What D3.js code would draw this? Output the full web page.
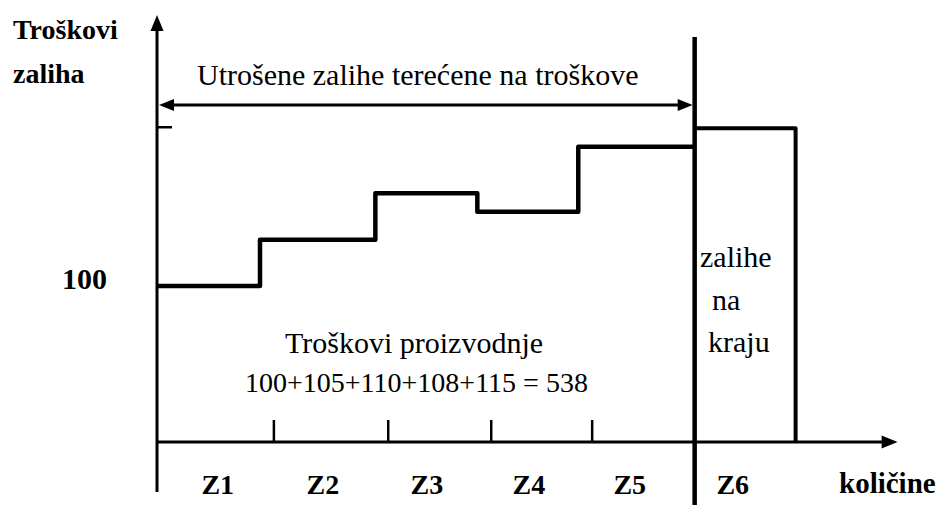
<!DOCTYPE html>
<html>
<head>
<meta charset="utf-8">
<script src="https://cdn.jsdelivr.net/npm/d3@7"></script>
<style>
  html, body { margin: 0; padding: 0; background: #fff; }
  svg { display: block; }
  svg text { fill: #000; }
</style>
</head>
<body>
<svg id="chart" width="942" height="505"></svg>
<script>
// ---- data ----
const categories = ["Z1", "Z2", "Z3", "Z4", "Z5", "Z6"];
const quantities = [10, 11.2, 9.9, 9.8, 11.3, 9.8];      // width of each lot on the quantity axis
const costs = [100, 105, 110, 108, 115];                   // cost per unit of Z1..Z5
const endInventoryCost = 117;                              // Z6 (zalihe na kraju)
const labelAt = [5.9, 16.1, 26.2, 36.1, 45.9, 55.9];        // quantity-axis position of Z labels
const tickValuesX = [11.3, 22.4, 32.4, 42.2];
const tickValuesY = [100];
const formulaText = "100+105+110+108+115 = 538";

// ---- scales ----
const FONT = "'Liberation Serif', 'Noto Serif', 'DejaVu Serif', FreeSerif, Tinos, 'Times New Roman', serif";
const svg = d3.select("#chart").attr("font-family", FONT);
const x = d3.scaleLinear().domain([0, 72]).range([157, 898.6]);
const y = d3.scaleLinear().domain([83.2, 129.2]).range([442, 15]);

const cum = [0];
quantities.forEach(q => cum.push(cum[cum.length - 1] + q));

function tri(tipX, tipY, dir, len, half) {
  let p;
  if (dir === "up") p = [[tipX, tipY], [tipX - half, tipY + len], [tipX + half, tipY + len]];
  else if (dir === "right") p = [[tipX, tipY], [tipX - len, tipY - half], [tipX - len, tipY + half]];
  else p = [[tipX, tipY], [tipX + len, tipY - half], [tipX + len, tipY + half]];
  svg.append("path").attr("d", "M" + p.map(d => d.join(",")).join("L") + "Z").attr("fill", "#000");
}

function txt(xp, yp, s, size, bold, anchor) {
  return svg.append("text").attr("x", xp).attr("y", yp)
    .attr("font-family", FONT).attr("font-size", size)
    .attr("font-weight", bold ? "bold" : "normal")
    .attr("text-anchor", anchor || "start")
    .text(s);
}

// ---- x axis (quantities) ----
const xAxis = d3.axisBottom(x).tickValues(tickValuesX).tickSize(-22).tickSizeOuter(0).tickFormat("");
const gx = svg.append("g").attr("transform", `translate(0,${y(83.2)})`).call(xAxis);
gx.select(".domain").attr("stroke", "#000").attr("stroke-width", 3).attr("d", `M${x(0)},0H${x(72) - 8}`);
gx.selectAll(".tick line").attr("stroke", "#000").attr("stroke-width", 2.5);
tri(x(72) - 1, y(83.2), "right", 16, 6.5);

// ---- y axis (costs) ----
const yAxis = d3.axisLeft(y).tickValues(tickValuesY).tickSize(0).tickPadding(50).tickFormat(d3.format("d"));
const gy = svg.append("g").attr("transform", `translate(${x(0)},0)`).call(yAxis);
gy.attr("font-family", FONT).attr("font-size", 30).attr("font-weight", "bold");
gy.select(".domain").attr("stroke", "#000").attr("stroke-width", 3).attr("d", `M0,492V${y(129.2) + 8}`);
gy.selectAll(".tick text").attr("dy", "0.07em");
tri(x(0), y(129.2), "up", 16, 6.5);

// small mark on the y axis at the end-inventory level
svg.append("line")
  .attr("x1", x(0)).attr("x2", x(0) + 15)
  .attr("y1", y(endInventoryCost) - 1).attr("y2", y(endInventoryCost) - 1)
  .attr("stroke", "#000").attr("stroke-width", 2.5);

// ---- step line of unit costs Z1..Z5 ----
const stepPts = costs.map((c, i) => [cum[i], c]);
stepPts.push([cum[costs.length], costs[costs.length - 1]]);
svg.append("path")
  .datum(stepPts)
  .attr("fill", "none").attr("stroke", "#000").attr("stroke-width", 4.5)
  .attr("stroke-linejoin", "round")
  .attr("d", d3.line().x(d => x(d[0])).y(d => y(d[1])).curve(d3.curveStepAfter));

// ---- Z6 end-inventory box ----
svg.append("path")
  .attr("fill", "none").attr("stroke", "#000").attr("stroke-width", 4)
  .attr("stroke-linejoin", "round")
  .attr("d", `M${x(cum[5])},${y(endInventoryCost)}H${x(cum[6])}V${y(83.2)}`);

// ---- vertical divider ----
svg.append("line")
  .attr("x1", x(cum[5])).attr("x2", x(cum[5]))
  .attr("y1", 37).attr("y2", 505)
  .attr("stroke", "#000").attr("stroke-width", 4.5);

// ---- double arrow: Utrošene zalihe ----
const arrowY = 105;
svg.append("line")
  .attr("x1", x(0) + 10).attr("x2", x(cum[5]) - 10)
  .attr("y1", arrowY).attr("y2", arrowY)
  .attr("stroke", "#000").attr("stroke-width", 3);
tri(x(0) + 2, arrowY, "left", 15, 6);
tri(x(cum[5]) - 2, arrowY, "right", 15, 6);

txt(197, 85, "Utrošene zalihe terećene na troškove", 30, false);

// ---- texts ----
txt(13, 39, "Troškovi", 28, true);
txt(13, 83, "zaliha", 28, true);
txt(285, 353, "Troškovi proizvodnje", 30, false);
txt(245, 392, formulaText, 28, false);

categories.forEach((c, i) => txt(x(labelAt[i]), 494, c, 28, true, "middle"));

txt(839, 493, "količine", 29, true);
txt(700, 267, "zalihe", 30, false);
txt(712, 310, "na", 30, false);
txt(708, 352, "kraju", 30, false);
</script>
</body>
</html>
